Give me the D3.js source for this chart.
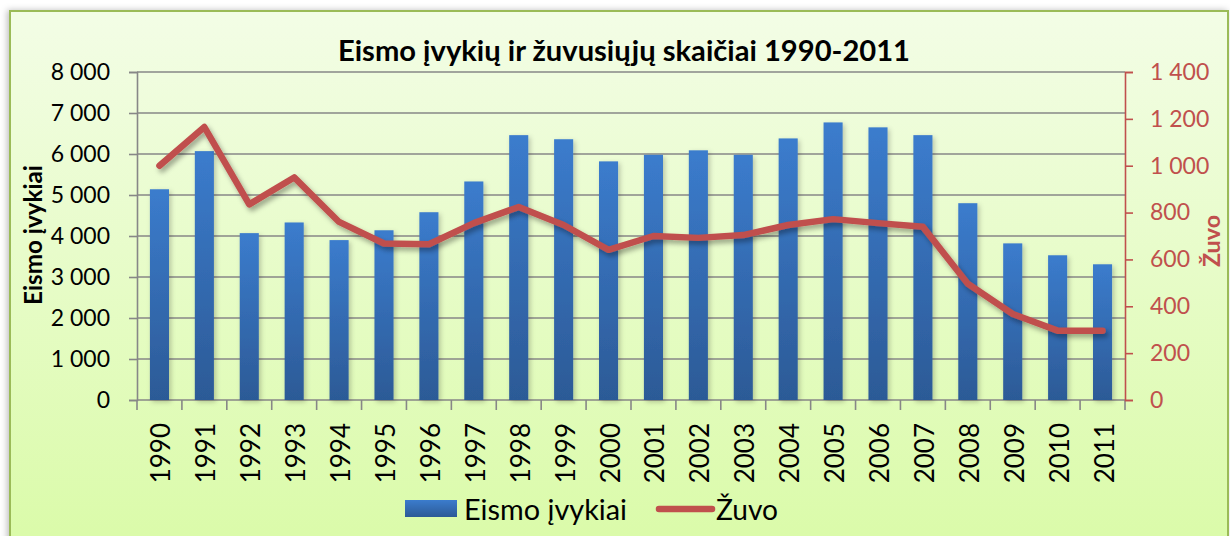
<!DOCTYPE html>
<html>
<head>
<meta charset="utf-8">
<script src="https://cdn.jsdelivr.net/npm/d3@7"></script>
<style>
  html, body { margin: 0; padding: 0; background: #ffffff; }
  svg { display: block; font-family: Lato, "Open Sans", sans-serif; }
</style>
</head>
<body>
<svg id="chart" width="1230" height="536"></svg>
<script>
const years = ["1990","1991","1992","1993","1994","1995","1996","1997","1998","1999","2000","2001","2002","2003","2004","2005","2006","2007","2008","2009","2010","2011"];
const accidents = [5140, 6070, 4070, 4330, 3900, 4140, 4580, 5330, 6460, 6360, 5820, 5980, 6090, 5980, 6380, 6770, 6650, 6460, 4800, 3820, 3530, 3310];
const killed = [1000, 1165, 835, 950, 760, 668, 665, 755, 824, 747, 641, 700, 692, 704, 747, 772, 755, 739, 496, 367, 296, 296];
const leftTicks = [0, 1000, 2000, 3000, 4000, 5000, 6000, 7000, 8000];
const rightTicks = [0, 200, 400, 600, 800, 1000, 1200, 1400];
const titleText = "Eismo įvykių ir žuvusiųjų skaičiai 1990-2011";
const leftTitle = "Eismo įvykiai";
const rightTitle = "Žuvo";
const seriesNames = ["Eismo įvykiai", "Žuvo"];

const fmt = v => d3.format(",")(v).replace(/,/g, " ");

const svg = d3.select("#chart");
const defs = svg.append("defs");

const bg = defs.append("linearGradient").attr("id", "bg").attr("x1", 0).attr("y1", 0).attr("x2", 0).attr("y2", 1);
bg.append("stop").attr("offset", "0%").attr("stop-color", "#f3fde6");
bg.append("stop").attr("offset", "100%").attr("stop-color", "#dafba8");

const barG = defs.append("linearGradient").attr("id", "barG").attr("x1", 0).attr("y1", 0).attr("x2", 0).attr("y2", 1);
barG.append("stop").attr("offset", "0%").attr("stop-color", "#3b7ccd");
barG.append("stop").attr("offset", "100%").attr("stop-color", "#2c5a96");

const sh = defs.append("filter").attr("id", "shadow").attr("x", "-10%").attr("y", "-10%").attr("width", "130%").attr("height", "130%");
sh.append("feDropShadow").attr("dx", 2.5).attr("dy", 3.5).attr("stdDeviation", 2.5).attr("flood-color", "#000").attr("flood-opacity", 0.35);

const bsh = defs.append("filter").attr("id", "bshadow").attr("x", "-40%").attr("y", "-5%").attr("width", "180%").attr("height", "115%");
bsh.append("feDropShadow").attr("dx", 2).attr("dy", 2).attr("stdDeviation", 2.5).attr("flood-color", "#000").attr("flood-opacity", 0.22);

const osh = defs.append("filter").attr("id", "oshadow").attr("x", "-5%").attr("y", "-5%").attr("width", "110%").attr("height", "110%");
osh.append("feDropShadow").attr("dx", -2).attr("dy", 0).attr("stdDeviation", 3).attr("flood-color", "#000").attr("flood-opacity", 0.25);

// chart area
svg.append("rect").attr("x", 10).attr("y", 11).attr("width", 1218).attr("height", 540)
  .attr("fill", "url(#bg)").attr("stroke", "#9bbb59").attr("stroke-width", 2).attr("filter", "url(#oshadow)");

const L = 137, R = 1125, T = 72, B = 400;

const x = d3.scaleBand().domain(years).range([L, R]).paddingInner(0.575).paddingOuter(0.2875);
const yL = d3.scaleLinear().domain([0, 8000]).range([B, T]);
const yR = d3.scaleLinear().domain([0, 1400]).range([B, T]);

function fit(sel, w) {
  const fs = parseFloat(sel.attr("font-size"));
  const len = sel.node().getComputedTextLength();
  sel.attr("font-size", (fs * w / len).toFixed(2));
}

// gridlines
svg.append("g").selectAll("line").data(leftTicks).join("line")
  .attr("x1", L).attr("x2", R).attr("y1", d => yL(d)).attr("y2", d => yL(d))
  .attr("stroke", "#878787").attr("stroke-width", 1.6);

// left axis
const gl = svg.append("g").attr("transform", `translate(${L},0)`)
  .call(d3.axisLeft(yL).tickValues(leftTicks).tickSize(8).tickPadding(19).tickFormat(fmt));
gl.select(".domain").attr("stroke", "#878787").attr("stroke-width", 1.6);
gl.selectAll(".tick line").attr("stroke", "#878787").attr("stroke-width", 1.6);
gl.selectAll(".tick text").attr("font-size", 23).attr("font-family", "Lato").attr("fill", "#000");

// bottom axis ticks at boundaries
const step = x.step();
const bounds = d3.range(years.length + 1).map(i => L + i * step);
svg.append("g").selectAll("line").data(bounds).join("line")
  .attr("x1", d => d).attr("x2", d => d).attr("y1", B).attr("y2", B + 10)
  .attr("stroke", "#878787").attr("stroke-width", 1.6);

// year labels
svg.append("g").selectAll("text").data(years).join("text")
  .attr("transform", d => `translate(${x(d) + x.bandwidth() / 2 + 1},423) rotate(-90)`)
  .attr("text-anchor", "end").attr("dominant-baseline", "central")
  .attr("font-size", 26).attr("fill", "#000").text(d => d);

// bars
svg.append("g").selectAll("rect").data(accidents).join("rect")
  .attr("x", (d, i) => x(years[i])).attr("width", x.bandwidth())
  .attr("y", d => yL(d)).attr("height", d => B - yL(d))
  .attr("fill", "url(#barG)").attr("filter", "url(#bshadow)");

// right axis
const gr = svg.append("g").attr("transform", `translate(${R},0)`)
  .call(d3.axisRight(yR).tickValues(rightTicks).tickSize(8).tickPadding(17).tickFormat(fmt));
gr.select(".domain").attr("stroke", "#c0504d").attr("stroke-width", 1.6);
gr.selectAll(".tick line").attr("stroke", "#c0504d").attr("stroke-width", 1.6);
gr.selectAll(".tick text").attr("font-size", 23).attr("font-family", "Lato").attr("fill", "#c0504d");

// line
const line = d3.line().x((d, i) => x(years[i]) + x.bandwidth() / 2).y(d => yR(d));
svg.append("path").datum(killed).attr("d", line)
  .attr("fill", "none").attr("stroke", "#c0504d").attr("stroke-width", 6.5)
  .attr("stroke-linejoin", "round").attr("stroke-linecap", "round").attr("filter", "url(#shadow)");

// title
const t = svg.append("text").attr("x", 624).attr("y", 61).attr("text-anchor", "middle")
  .attr("font-weight", "bold").attr("font-size", 24).attr("fill", "#000").text(titleText);
fit(t, 572);

// axis titles
const at1 = svg.append("text").attr("transform", "translate(32,235) rotate(-90)")
  .attr("text-anchor", "middle").attr("dominant-baseline", "central")
  .attr("font-weight", "bold").attr("font-size", 21).attr("fill", "#000").text(leftTitle);
fit(at1, 140);
const at2 = svg.append("text").attr("transform", "translate(1211,241) rotate(-90)")
  .attr("text-anchor", "middle").attr("dominant-baseline", "central")
  .attr("font-weight", "bold").attr("font-size", 21).attr("fill", "#c0504d").text(rightTitle);
fit(at2, 52);

// legend
const lg = svg.append("g");
lg.append("rect").attr("x", 405).attr("y", 500).attr("width", 52).attr("height", 17).attr("fill", "url(#barG)");
const lt1 = lg.append("text").attr("x", 464).attr("y", 509).attr("dominant-baseline", "central")
  .attr("font-size", 23).attr("fill", "#000").text(seriesNames[0]);
fit(lt1, 163);
lg.append("line").attr("x1", 659).attr("x2", 712).attr("y1", 509).attr("y2", 509)
  .attr("stroke", "#c0504d").attr("stroke-width", 6.5).attr("stroke-linecap", "round");
const lt2 = lg.append("text").attr("x", 716).attr("y", 509).attr("dominant-baseline", "central")
  .attr("font-size", 23).attr("fill", "#000").text(seriesNames[1]);
fit(lt2, 62);
</script>
</body>
</html>
